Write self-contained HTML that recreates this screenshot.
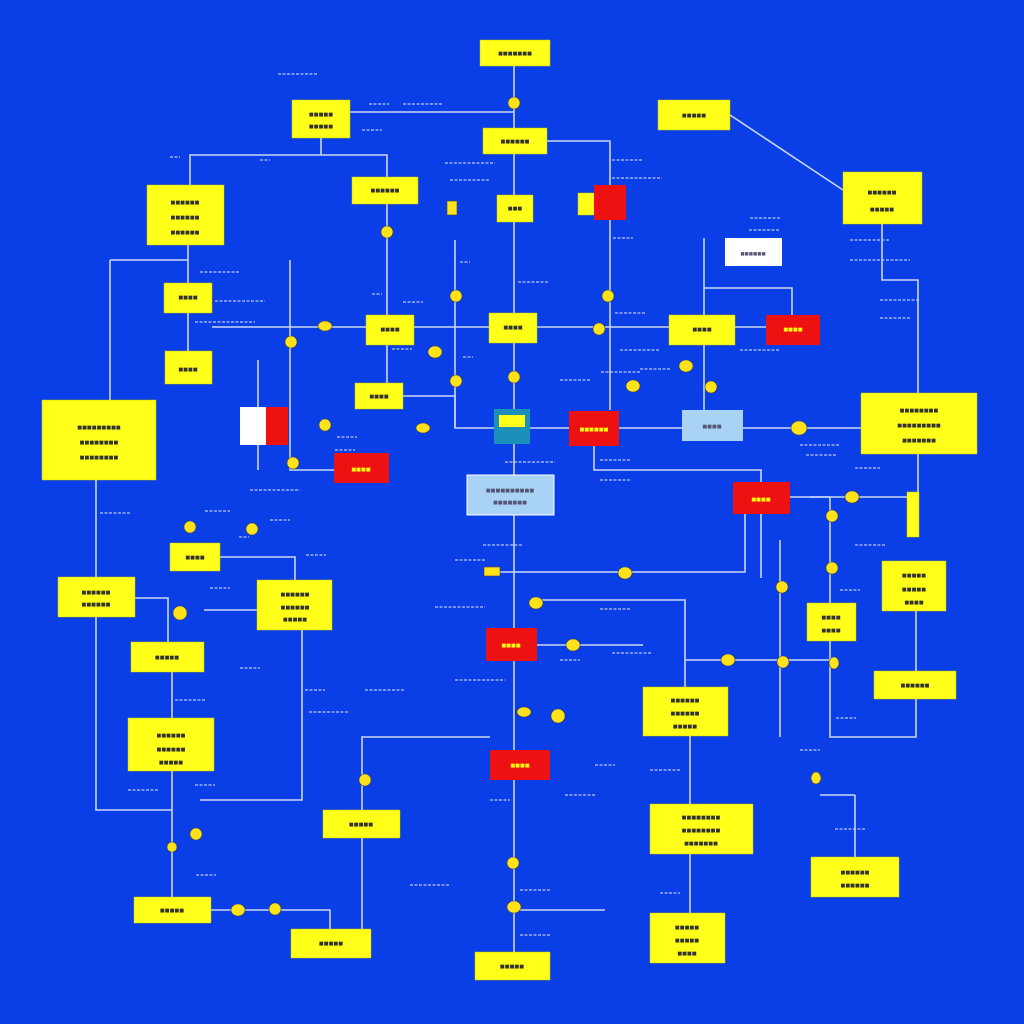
<!DOCTYPE html>
<html><head><meta charset="utf-8"><style>
html,body{margin:0;padding:0;background:#0a3ee6;}
svg{display:block;font-family:"Liberation Sans",sans-serif;}
</style></head><body>
<svg width="1024" height="1024" viewBox="0 0 1024 1024" xmlns="http://www.w3.org/2000/svg">
<rect width="1024" height="1024" fill="#0a3ee6"/>
<g stroke="#c9d6f2" stroke-width="1.6" fill="none">
<path d="M514 66V195M514 222V313M514 343V409M514 444V475M514 515V628M514 661V750M514 780V952"/>
<path d="M321 138V155H190V185M321 138V155H387V177M387 204V315M387 345V383"/>
<path d="M350 112H514M547 141H610V185M610 220V410"/>
<path d="M730 115L843 190M882 224V280H918V393M918 454V492"/>
<path d="M188 245V283M188 313V351M110 260H188M110 260V400"/>
<path d="M212 327H366M414 327H489M537 327H669M735 327H766"/>
<path d="M704 238V315M704 288H792V315M704 345V410"/>
<path d="M290 260V470H334M258 360V407M258 445V470"/>
<path d="M403 396H455V428H494M530 428H569M619 428H682M743 428H861"/>
<path d="M455 240V428"/>
<path d="M594 446V470H761V482M761 514V578M790 497H907"/>
<path d="M96 480V577M96 617V810H172M172 672V718M172 771V897"/>
<path d="M220 557H295V580M135 598H168V642M204 610H257"/>
<path d="M302 630V800H200"/>
<path d="M485 572H745V514M537 600H685V687M537 645H643"/>
<path d="M685 660H830V603M830 641V737H916V671M916 611V671"/>
<path d="M810 497H830V603M780 540V737"/>
<path d="M690 736V804M690 854V913M855 795V857M820 795H855"/>
<path d="M490 737H362V810M362 838V929M211 910H330V929"/>
<path d="M514 910H605"/>
</g>
<g stroke="#b8c8ee" stroke-width="1.2" stroke-dasharray="3 1.5">
<path d="M278 74h40M369 104h20M403 104h40M362 130h20M260 160h10M170 157h10M445 163h50M450 180h40M612 160h30M612 178h50M750 218h30M749 230h30M613 238h20M200 272h40M215 301h50M195 322h60M403 302h20M372 294h10M460 262h10M518 282h30M615 313h30M392 349h20M463 357h10M601 372h40M640 369h30M850 240h40M850 260h60M880 300h40M880 318h30M800 445h40M806 455h30M337 437h20M335 450h20M600 460h30M505 462h50M483 545h40M455 560h30M435 607h50M600 609h30M612 653h40M560 660h20M455 680h50M365 690h40M305 690h20M309 712h40M240 668h20M210 588h20M100 513h30M205 511h25M239 537h10M306 555h20M175 700h30M195 785h20M128 790h30M855 468h25M855 545h30M836 718h20M595 765h20M565 795h30M650 770h30M490 800h20M196 875h20M410 885h40M520 890h30M520 935h30M660 893h20M835 829h30M800 750h20M620 350h40M740 350h40M560 380h30M250 490h50M270 520h20M840 590h20M600 480h30"/>
</g>
<g fill="#ffff1a" stroke="#c8c800" stroke-width="0.5">
<rect x="480" y="40" width="70" height="26"/>
<rect x="292" y="100" width="58" height="38"/>
<rect x="483" y="128" width="64" height="26"/>
<rect x="658" y="100" width="72" height="30"/>
<rect x="352" y="177" width="66" height="27"/>
<rect x="147" y="185" width="77" height="60"/>
<rect x="497" y="195" width="36" height="27"/>
<rect x="843" y="172" width="79" height="52"/>
<rect x="164" y="283" width="48" height="30"/>
<rect x="366" y="315" width="48" height="30"/>
<rect x="489" y="313" width="48" height="30"/>
<rect x="669" y="315" width="66" height="30"/>
<rect x="165" y="351" width="47" height="33"/>
<rect x="355" y="383" width="48" height="26"/>
<rect x="42" y="400" width="114" height="80"/>
<rect x="861" y="393" width="116" height="61"/>
<rect x="170" y="543" width="50" height="28"/>
<rect x="58" y="577" width="77" height="40"/>
<rect x="257" y="580" width="75" height="50"/>
<rect x="882" y="561" width="64" height="50"/>
<rect x="807" y="603" width="49" height="38"/>
<rect x="131" y="642" width="73" height="30"/>
<rect x="874" y="671" width="82" height="28"/>
<rect x="643" y="687" width="85" height="49"/>
<rect x="128" y="718" width="86" height="53"/>
<rect x="323" y="810" width="77" height="28"/>
<rect x="650" y="804" width="103" height="50"/>
<rect x="811" y="857" width="88" height="40"/>
<rect x="134" y="897" width="77" height="26"/>
<rect x="291" y="929" width="80" height="29"/>
<rect x="475" y="952" width="75" height="28"/>
<rect x="650" y="913" width="75" height="50"/>
<rect x="907" y="492" width="12" height="45"/>
<rect x="578" y="193" width="16" height="22"/>
</g>
<g fill="#ee1111">
<rect x="594" y="185" width="32" height="35"/>
<rect x="766" y="315" width="54" height="30"/>
<rect x="569" y="411" width="50" height="35"/>
<rect x="334" y="453" width="55" height="30"/>
<rect x="733" y="482" width="57" height="32"/>
<rect x="486" y="628" width="51" height="33"/>
<rect x="490" y="750" width="60" height="30"/>
<rect x="266" y="407" width="22" height="38"/>
</g>
<rect x="725" y="238" width="57" height="28" fill="#fff"/>
<text x="753" y="256" font-size="7" fill="#557" text-anchor="middle">■■■■■■</text>
<rect x="240" y="407" width="26" height="38" fill="#fff"/>
<rect x="494" y="409" width="36" height="35" fill="#1b8fb8"/>
<rect x="499" y="415" width="26" height="12" fill="#ffff1a"/>
<rect x="682" y="410" width="61" height="31" fill="#a9d3f5"/>
<rect x="467" y="475" width="87" height="40" fill="#a9d3f5" stroke="#fff"/>
<g fill="#ffe21a" stroke="#444" stroke-width="0.6">
<ellipse cx="514" cy="103" rx="6" ry="6"/><ellipse cx="387" cy="232" rx="6" ry="6"/>
<ellipse cx="325" cy="326" rx="7" ry="5"/><ellipse cx="291" cy="342" rx="6" ry="6"/>
<ellipse cx="435" cy="352" rx="7" ry="6"/><ellipse cx="456" cy="296" rx="6" ry="6"/>
<ellipse cx="456" cy="381" rx="6" ry="6"/><ellipse cx="514" cy="377" rx="6" ry="6"/>
<ellipse cx="599" cy="329" rx="6" ry="6"/><ellipse cx="608" cy="296" rx="6" ry="6"/>
<ellipse cx="633" cy="386" rx="7" ry="6"/><ellipse cx="686" cy="366" rx="7" ry="6"/>
<ellipse cx="711" cy="387" rx="6" ry="6"/><ellipse cx="423" cy="428" rx="7" ry="5"/>
<ellipse cx="325" cy="425" rx="6" ry="6"/><ellipse cx="293" cy="463" rx="6" ry="6"/>
<ellipse cx="799" cy="428" rx="8" ry="7"/><ellipse cx="852" cy="497" rx="7" ry="6"/>
<ellipse cx="832" cy="516" rx="6" ry="6"/><ellipse cx="832" cy="568" rx="6" ry="6"/>
<ellipse cx="782" cy="587" rx="6" ry="6"/><ellipse cx="625" cy="573" rx="7" ry="6"/>
<ellipse cx="536" cy="603" rx="7" ry="6"/><ellipse cx="573" cy="645" rx="7" ry="6"/>
<ellipse cx="728" cy="660" rx="7" ry="6"/><ellipse cx="783" cy="662" rx="6" ry="6"/>
<ellipse cx="834" cy="663" rx="5" ry="6"/><ellipse cx="190" cy="527" rx="6" ry="6"/>
<ellipse cx="252" cy="529" rx="6" ry="6"/><ellipse cx="180" cy="613" rx="7" ry="7"/>
<ellipse cx="558" cy="716" rx="7" ry="7"/><ellipse cx="524" cy="712" rx="7" ry="5"/>
<ellipse cx="365" cy="780" rx="6" ry="6"/><ellipse cx="196" cy="834" rx="6" ry="6"/>
<ellipse cx="172" cy="847" rx="5" ry="5"/><ellipse cx="238" cy="910" rx="7" ry="6"/>
<ellipse cx="275" cy="909" rx="6" ry="6"/><ellipse cx="513" cy="863" rx="6" ry="6"/>
<ellipse cx="514" cy="907" rx="7" ry="6"/><ellipse cx="816" cy="778" rx="5" ry="6"/>
<rect x="484" y="567" width="16" height="9"/>
<rect x="447" y="201" width="10" height="14"/>
</g>
<g font-size="8" fill="#333" text-anchor="middle">
<text x="515" y="56">■■■■■■■</text><text x="321" y="117">■■■■■</text><text x="321" y="129">■■■■■</text>
<text x="515" y="144">■■■■■■</text><text x="694" y="118">■■■■■</text><text x="385" y="193">■■■■■■</text>
<text x="185" y="205">■■■■■■</text><text x="185" y="220">■■■■■■</text><text x="185" y="235">■■■■■■</text>
<text x="515" y="211">■■■</text><text x="882" y="195">■■■■■■</text><text x="882" y="212">■■■■■</text>
<text x="188" y="300">■■■■</text><text x="390" y="332">■■■■</text><text x="513" y="330">■■■■</text>
<text x="702" y="332">■■■■</text><text x="793" y="332" fill="#ff0">■■■■</text><text x="188" y="372">■■■■</text>
<text x="379" y="399">■■■■</text><text x="99" y="430">■■■■■■■■■</text><text x="99" y="445">■■■■■■■■</text><text x="99" y="460">■■■■■■■■</text>
<text x="919" y="413">■■■■■■■■</text><text x="919" y="428">■■■■■■■■■</text><text x="919" y="443">■■■■■■■</text>
<text x="712" y="429" fill="#557">■■■■</text><text x="510" y="493" fill="#557">■■■■■■■■■■</text><text x="510" y="505" fill="#557">■■■■■■■</text>
<text x="594" y="432" fill="#ff0">■■■■■■</text><text x="361" y="472" fill="#ff0">■■■■</text><text x="761" y="502" fill="#ff0">■■■■</text>
<text x="195" y="560">■■■■</text><text x="96" y="595">■■■■■■</text><text x="96" y="607">■■■■■■</text>
<text x="295" y="597">■■■■■■</text><text x="295" y="610">■■■■■■</text><text x="295" y="622">■■■■■</text>
<text x="914" y="578">■■■■■</text><text x="914" y="592">■■■■■</text><text x="914" y="605">■■■■</text>
<text x="831" y="620">■■■■</text><text x="831" y="633">■■■■</text><text x="167" y="660">■■■■■</text>
<text x="511" y="648" fill="#ff0">■■■■</text><text x="915" y="688">■■■■■■</text>
<text x="685" y="703">■■■■■■</text><text x="685" y="716">■■■■■■</text><text x="685" y="729">■■■■■</text>
<text x="171" y="738">■■■■■■</text><text x="171" y="752">■■■■■■</text><text x="171" y="765">■■■■■</text>
<text x="520" y="768" fill="#ff0">■■■■</text><text x="361" y="827">■■■■■</text>
<text x="701" y="820">■■■■■■■■</text><text x="701" y="833">■■■■■■■■</text><text x="701" y="846">■■■■■■■</text>
<text x="855" y="875">■■■■■■</text><text x="855" y="888">■■■■■■</text><text x="172" y="913">■■■■■</text>
<text x="331" y="946">■■■■■</text><text x="512" y="969">■■■■■</text>
<text x="687" y="930">■■■■■</text><text x="687" y="943">■■■■■</text><text x="687" y="956">■■■■</text>
</g>
</svg>
</body></html>
